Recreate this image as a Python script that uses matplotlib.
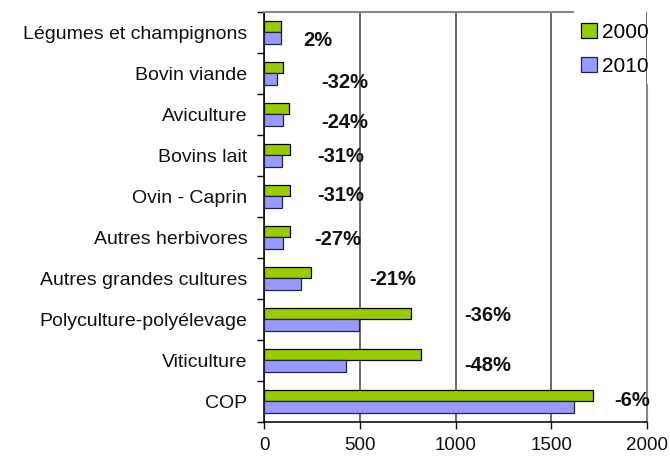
import numpy as np
import matplotlib
matplotlib.use("Agg")
import matplotlib.pyplot as plt

plt.rcParams['font.family'] = ['Liberation Sans', 'DejaVu Sans']

# Data (top to bottom)
categories = ["Légumes et champignons", "Bovin viande", "Aviculture", "Bovins lait",
              "Ovin - Caprin", "Autres herbivores", "Autres grandes cultures",
              "Polyculture-polyélevage", "Viticulture", "COP"]
val_2000 = [87, 101, 128, 136, 136, 136, 245, 770, 821, 1720]
val_2010 = [89, 69, 97, 94, 94, 100, 194, 495, 427, 1620]
changes = ["2%", "-32%", "-24%", "-31%", "-31%", "-27%", "-21%", "-36%", "-48%", "-6%"]

# where the change labels sit (x in data units, y shift in category units)
label_x = [280, 423, 423, 403, 403, 386, 672, 1166, 1166, 1924]
label_dy = [0.2, 0.22, 0.2, 0.02, -0.02, 0.06, 0.02, -0.08, 0.12, -0.02]

green = "#99CC00"
blue = "#9999FF"

fig = plt.figure(figsize=(6.7, 4.59), dpi=100)
ax = fig.add_axes([264 / 670, 1 - 421.7 / 459, (647 - 264) / 670, (421.7 - 12) / 459])

y = np.arange(len(categories))
h = 0.28
ax.barh(y - h / 2, val_2000, height=h, color=green, edgecolor="black", linewidth=0.9,
        label="2000", zorder=3)
ax.barh(y + h / 2, val_2010, height=h, color=blue, edgecolor="#222244", linewidth=0.9,
        label="2010", zorder=3)

for i, txt in enumerate(changes):
    ax.text(label_x[i], y[i] + label_dy[i], txt, ha="center", va="center",
            fontsize=14.5, fontweight="bold", color="#111111", zorder=4)

ax.set_xlim(0, 2000)
ax.set_ylim(len(categories) - 0.5, -0.5)
ax.set_xticks([0, 500, 1000, 1500, 2000])
ax.set_yticks(y)
ax.set_yticklabels(categories)
ax.set_yticks(np.arange(-0.5, len(categories), 1), minor=True)
ax.tick_params(axis="y", which="major", length=0, pad=12, labelsize=14, colors="#111111")
ax.tick_params(axis="y", which="minor", length=5, width=1, direction="out")
ax.tick_params(axis="x", length=5, width=1, direction="out", pad=6, labelsize=13.5,
               colors="#111111")

ax.grid(axis="x", color="#444444", linewidth=1.1, zorder=0)
ax.set_axisbelow(True)

for s in ("left", "bottom"):
    ax.spines[s].set_color("black")
    ax.spines[s].set_linewidth(1.1)
for s in ("top", "right"):
    ax.spines[s].set_color("#888888")
    ax.spines[s].set_linewidth(1.5)
# legend box hides the frame in the top right corner
ax.spines["top"].set_bounds(0, 1615)
ax.spines["right"].set_bounds(1.28, len(categories) - 0.5)

ax.legend(loc="upper left", bbox_to_anchor=(581 / 670, 1 - 23 / 459),
          bbox_transform=fig.transFigure, frameon=False, fontsize=15,
          handlelength=0.75, handleheight=0.75, handletextpad=0.25,
          labelspacing=0.7, borderpad=0, borderaxespad=0)

fig.savefig("out.png", dpi=100)
